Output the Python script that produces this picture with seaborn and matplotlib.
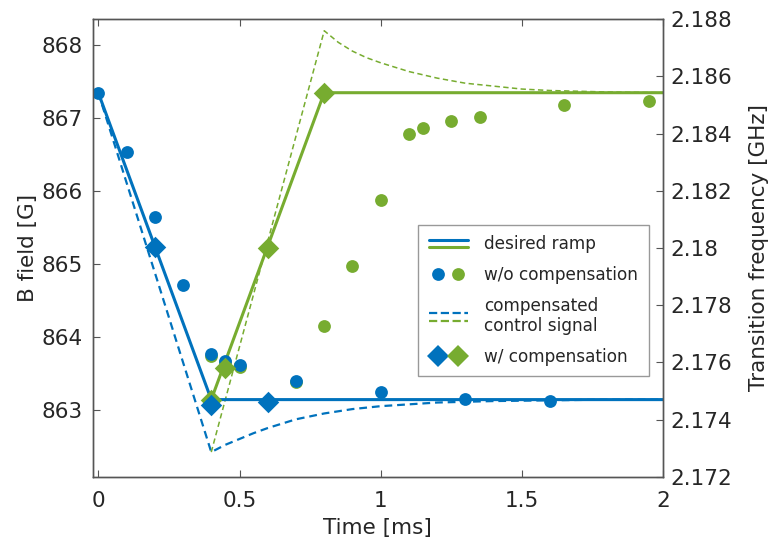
import numpy as np
import pandas as pd
import seaborn as sns
import matplotlib.pyplot as plt
from matplotlib.lines import Line2D
from matplotlib.legend_handler import HandlerBase, HandlerTuple
from matplotlib.ticker import FormatStrFormatter

# colours (MATLAB-like)
BLUE = '#0072BD'
GREEN = '#77AC30'

# desired ramps [ms], [G]
ramp_t_down = [0, 0.4, 2.0]
ramp_b_down = [867.35, 863.14, 863.14]
ramp_t_up = [0.4, 0.8, 2.0]
ramp_b_up = [863.14, 867.35, 867.35]

# compensated control signals
ctrl_t_down = [0, 0.4, 0.45, 0.5, 0.55, 0.6, 0.7, 0.8, 0.9, 1.0, 1.2, 1.4, 1.6, 1.8, 2.0]
ctrl_b_down = [867.35, 862.42, 862.52, 862.60, 862.68, 862.75, 862.87, 862.95, 863.01,
               863.05, 863.10, 863.12, 863.13, 863.14, 863.14]
ctrl_t_up = [0.4, 0.8, 0.85, 0.9, 0.95, 1.0, 1.1, 1.2, 1.3, 1.4, 1.5, 1.6, 1.8, 2.0]
ctrl_b_up = [862.42, 868.20, 868.04, 867.92, 867.83, 867.76, 867.64, 867.55, 867.48,
             867.44, 867.40, 867.38, 867.36, 867.35]

# measurements without compensation
wo_t_down = [0, 0.1, 0.2, 0.3, 0.4, 0.45, 0.5, 0.7, 1.0, 1.3, 1.6]
wo_b_down = [867.35, 866.54, 865.64, 864.71, 863.76, 863.67, 863.61, 863.40, 863.25, 863.15, 863.12]
wo_t_up = [0.4, 0.45, 0.5, 0.7, 0.8, 0.9, 1.0, 1.1, 1.15, 1.25, 1.35, 1.65, 1.95]
wo_b_up = [863.74, 863.65, 863.59, 863.38, 864.15, 864.97, 865.88, 866.79, 866.87,
           866.96, 867.02, 867.18, 867.24]

# measurements with compensation
w_t_down = [0.2, 0.4, 0.6]
w_b_down = [865.23, 863.06, 863.11]
w_t_up = [0.4, 0.45, 0.6, 0.8]
w_b_up = [863.14, 863.57, 865.22, 867.35]


class Pair:
    def __init__(self, a, b):
        self.a, self.b = a, b


class HandlerStacked(HandlerBase):
    # two line samples, one above the other
    def create_artists(self, legend, orig_handle, xdescent, ydescent,
                       width, height, fontsize, trans):
        yc = (height - ydescent) / 2
        out = []
        for h, dy in ((orig_handle.a, 0.32 * height), (orig_handle.b, -0.32 * height)):
            ln = Line2D([-xdescent, width - xdescent], [yc + dy, yc + dy],
                        color=h.get_color(), lw=h.get_linewidth(),
                        ls=h.get_linestyle())
            ln.set_transform(trans)
            out.append(ln)
        return out


sns.set_style('ticks')
plt.rcParams['font.family'] = ['DejaVu Sans']

fig = plt.figure(figsize=(7.72, 5.45), dpi=100)
ax = fig.add_axes([0.12, 0.125, 0.739, 0.84])

dash_kw = dict(dashes=(3.5, 2.2))
sns.lineplot(x=ctrl_t_down, y=ctrl_b_down, ax=ax, color=BLUE, lw=1.6, sort=False, **dash_kw)
sns.lineplot(x=ctrl_t_up, y=ctrl_b_up, ax=ax, color=GREEN, lw=1.1, sort=False, **dash_kw)
sns.lineplot(x=ramp_t_down, y=ramp_b_down, ax=ax, color=BLUE, lw=2.2, sort=False)
sns.lineplot(x=ramp_t_up, y=ramp_b_up, ax=ax, color=GREEN, lw=2.2, sort=False)

sns.scatterplot(x=wo_t_up, y=wo_b_up, ax=ax, color=GREEN, s=85, linewidth=0, zorder=3)
sns.scatterplot(x=wo_t_down, y=wo_b_down, ax=ax, color=BLUE, s=85, linewidth=0, zorder=3)
sns.scatterplot(x=w_t_up, y=w_b_up, ax=ax, color=GREEN, marker='D', s=120, linewidth=0, zorder=4)
sns.scatterplot(x=w_t_down, y=w_b_down, ax=ax, color=BLUE, marker='D', s=120, linewidth=0, zorder=4)

ax.set_xlim(-0.02, 2)
ax.set_ylim(862.08, 868.36)
ax.set_xticks([0, 0.5, 1, 1.5, 2])
ax.xaxis.set_major_formatter(FormatStrFormatter('%g'))
ax.set_yticks([863, 864, 865, 866, 867, 868])
ax.set_xlabel('Time [ms]', fontsize=15.5, labelpad=5)
ax.set_ylabel('B field [G]', fontsize=15.5, labelpad=3)
ax.tick_params(direction='in', length=5, labelsize=15.5, top=True, color='#555555')
ax.tick_params(axis='x', pad=10)
ax.tick_params(axis='y', pad=7)

ax2 = ax.twinx()
ax2.set_ylim(2.172, 2.188)
ax2.set_yticks(np.arange(2.172, 2.1885, 0.002))
ax2.yaxis.set_major_formatter(FormatStrFormatter('%g'))
ax2.set_ylabel('Transition frequency [GHz]', fontsize=15.5, labelpad=12)
ax2.tick_params(direction='in', length=5, labelsize=15.5, color='#555555', pad=5)

for a in (ax, ax2):
    for sp in a.spines.values():
        sp.set_visible(True)
        sp.set_color('#555555')
        sp.set_linewidth(1.0)

h_ramp = Pair(Line2D([], [], color=BLUE, lw=2.2), Line2D([], [], color=GREEN, lw=2.2))
h_ctrl = Pair(Line2D([], [], color=BLUE, lw=1.6, ls=(0, (3.5, 2.2))),
              Line2D([], [], color=GREEN, lw=1.6, ls=(0, (3.5, 2.2))))
h_wo = (Line2D([], [], color=BLUE, marker='o', ls='', ms=9.2, mew=0),
        Line2D([], [], color=GREEN, marker='o', ls='', ms=9.2, mew=0))
h_w = (Line2D([], [], color=BLUE, marker='D', ls='', ms=11.5, mew=0),
       Line2D([], [], color=GREEN, marker='D', ls='', ms=11.5, mew=0))

leg = ax2.legend([h_ramp, h_wo, h_ctrl, h_w],
                 ['desired ramp', 'w/o compensation', 'compensated\ncontrol signal', 'w/ compensation'],
                 handler_map={Pair: HandlerStacked(), tuple: HandlerTuple(ndivide=None, pad=0.1)},
                 loc='upper left', bbox_to_anchor=(0.571, 0.55), borderaxespad=0,
                 fontsize=12.2, handlelength=2.3, handletextpad=1.0, labelspacing=0.75,
                 fancybox=False, framealpha=1, edgecolor='#999999', borderpad=0.6)
leg.get_frame().set_linewidth(1.0)

fig.savefig('out.png', dpi=100)
